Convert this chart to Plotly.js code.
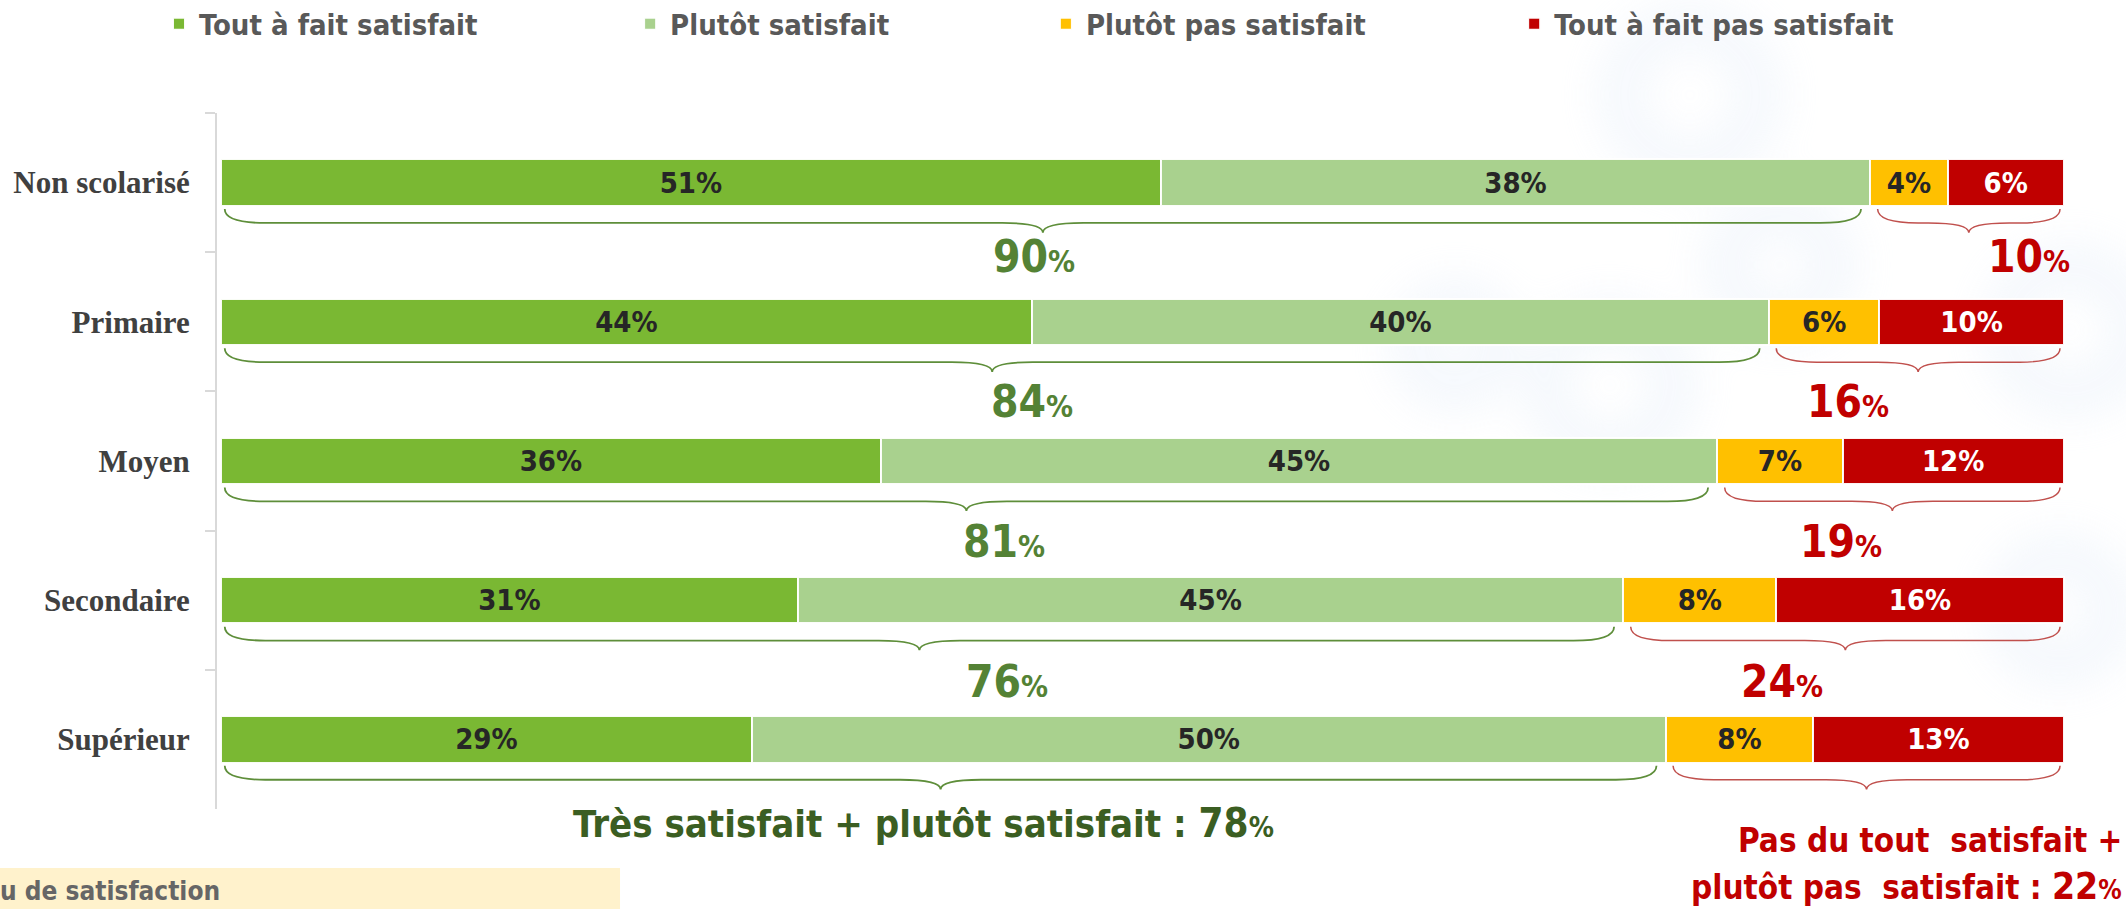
<!DOCTYPE html>
<html><head><meta charset="utf-8">
<script src="https://cdn.plot.ly/plotly-3.0.1.min.js"></script>
<style>html,body{margin:0;padding:0;background:#fff}#chart{width:2126px;height:909px}</style>
</head><body><div id="chart"></div>
<script>
// ---------- data ----------
const categories = ["Non scolarisé", "Primaire", "Moyen", "Secondaire", "Supérieur"];
const seriesNames = ["Tout à fait satisfait", "Plutôt satisfait", "Plutôt pas satisfait", "Tout à fait pas satisfait"];
const toutAFaitSatisfait    = [51.0, 44.0, 35.8, 31.3, 28.8];
const plutotSatisfait       = [38.5, 40.0, 45.4, 44.8, 49.6];
const plutotPasSatisfait    = [4.2, 6.0, 6.8, 8.3, 8.0];
const toutAFaitPasSatisfait = [6.3, 10.0, 12.0, 15.6, 13.6];
const labelsTAFS  = ["51%", "44%", "36%", "31%", "29%"];
const labelsPS    = ["38%", "40%", "45%", "45%", "50%"];
const labelsPPS   = ["4%", "6%", "7%", "8%", "8%"];
const labelsTAFPS = ["6%", "10%", "12%", "16%", "13%"];
const satisfiedTotals   = ["90", "84", "81", "76", "78"];
const unsatisfiedTotals = ["10", "16", "19", "24", "22"];
const summarySatisfied = "Très satisfait + plutôt satisfait : ";
const summaryUnsatLine1 = "Pas du tout\u00a0 satisfait +";
const summaryUnsatLine2 = "plutôt pas\u00a0 satisfait : ";
const footerText = "u de satisfaction";

// ---------- styles ----------
const colors = ["#7AB833", "#A9D18E", "#FFC000", "#C00000"];
const textColors = ["#262626", "#262626", "#262626", "#FFFFFF"];
const condensed = "DejaVu Sans Condensed, DejaVu Sans, sans-serif";
const sansBold = "DejaVu Sans Condensed, DejaVu Sans, sans-serif";
const greenBrace = "#5E8E3A", redBrace = "#C0504D";
const greenText = "#548235", redText = "#C00000", summaryGreen = "#3B5E22";
const greenNudge = [-9, 40, 38, 88, -17];   // px, label placement tweaks
const redNudge = [60, -70, -51, -63];
const labelDy = [0.53, 0.575, 0.58, 0.585];
const legendX = [-0.0305, 0.2172, 0.4358, 0.682];

const series = [toutAFaitSatisfait, plutotSatisfait, plutotPasSatisfait, toutAFaitPasSatisfait];
const seriesLabels = [labelsTAFS, labelsPS, labelsPPS, labelsTAFPS];
const legendIds = ["legend", "legend2", "legend3", "legend4"];

const traces = series.map((vals, i) => ({
  type: "bar", orientation: "h", name: seriesNames[i],
  y: categories, x: vals, text: seriesLabels[i],
  textposition: "inside", insidetextanchor: "middle", textangle: 0,
  constraintext: "none",
  insidetextfont: {family: condensed, size: 29, color: textColors[i], weight: "bold"},
  marker: {color: colors[i], line: {color: "rgba(255,255,255,0.95)", width: 2}},
  width: 0.334, legend: legendIds[i], hoverinfo: "skip"
}));

// ---------- braces ----------
function bracePath(x0, x1, yc) {
  const y0 = yc + 0.19, y1 = yc + 0.29, y2 = yc + 0.36;
  const dx = 2.2, xm = (x0 + x1) / 2;
  return `M${x0},${y0} Q${x0},${y1} ${x0 + dx},${y1} L${xm - dx},${y1} Q${xm},${y1} ${xm},${y2} ` +
         `Q${xm},${y1} ${xm + dx},${y1} L${x1 - dx},${y1} Q${x1},${y1} ${x1},${y0}`;
}
const shapes = [];
const annotations = [];
const pct = (v, big, small) =>
  `<span style="font-size:${big}px">${v}</span><span style="font-size:${small}px">%</span>`;
const toPaperY = y => (4.5 - y) / 5;

categories.forEach((c, i) => {
  const sat = toutAFaitSatisfait[i] + plutotSatisfait[i];
  const total = sat + plutotPasSatisfait[i] + toutAFaitPasSatisfait[i];
  const g0 = 0.2, g1 = sat - 0.5, r0 = sat + 0.4, r1 = total - 0.2;
  shapes.push({type: "path", xref: "x", yref: "y2", path: bracePath(g0, g1, i), line: {color: greenBrace, width: 1.8}});
  shapes.push({type: "path", xref: "x", yref: "y2", path: bracePath(r0, r1, i), line: {color: redBrace, width: 1.5}});
  if (i < categories.length - 1) {
    annotations.push({xref: "x", yref: "y2", x: (g0 + g1) / 2, y: i + labelDy[i], xshift: greenNudge[i],
      yanchor: "middle", text: pct(satisfiedTotals[i], 44, 30), showarrow: false,
      font: {family: condensed, color: greenText, weight: "bold", size: 44}});
    annotations.push({xref: "x", yref: "y2", x: (r0 + r1) / 2, y: i + labelDy[i], xshift: redNudge[i],
      yanchor: "middle", text: pct(unsatisfiedTotals[i], 44, 30), showarrow: false,
      font: {family: condensed, color: redText, weight: "bold", size: 44}});
  } else {
    annotations.push({xref: "x", yref: "paper", x: (g0 + g1) / 2, y: toPaperY(i + 0.6), xshift: greenNudge[i],
      yanchor: "middle", text: summarySatisfied + pct(satisfiedTotals[i], 40, 28), showarrow: false,
      font: {family: sansBold, color: summaryGreen, weight: "bold", size: 38}});
    annotations.push({xref: "paper", yref: "paper", x: 1, xanchor: "right", xshift: 5, y: toPaperY(i + 0.725),
      yanchor: "middle", text: summaryUnsatLine1, showarrow: false,
      font: {family: sansBold, color: redText, weight: "bold", size: 33}});
    annotations.push({xref: "paper", yref: "paper", x: 1, xanchor: "right", xshift: 5, y: toPaperY(i + 1.06),
      yanchor: "middle", text: summaryUnsatLine2 + pct(unsatisfiedTotals[i], 37, 26), showarrow: false,
      font: {family: sansBold, color: redText, weight: "bold", size: 33}});
  }
});

// footer band
shapes.push({type: "rect", xref: "paper", yref: "paper", x0: -0.1141, x1: 0.2119, y0: -0.1437, y1: -0.0848,
  fillcolor: "#FFF2CC", line: {width: 0}, layer: "below"});
annotations.push({xref: "paper", yref: "paper", x: -0.1141, xanchor: "left", xshift: -2, y: -0.1178, yanchor: "middle",
  text: footerText, showarrow: false, font: {family: sansBold, size: 26, color: "#666666", weight: "bold"}});

// faint background watermark rings
const bgSvg = "<svg xmlns='http://www.w3.org/2000/svg' width='2126' height='909'>" +
  "<defs><filter id='b' x='-50%' y='-50%' width='200%' height='200%'><feGaussianBlur stdDeviation='24'/></filter></defs>" +
  "<g filter='url(#b)' fill='none' stroke='#dbe7f7' stroke-width='30' opacity='0.45'>" +
  "<circle cx='1690' cy='95' r='70'/><circle cx='1780' cy='265' r='55'/><circle cx='1610' cy='385' r='65'/>" +
  "<circle cx='2070' cy='330' r='65'/><circle cx='2060' cy='610' r='55'/><circle cx='1455' cy='345' r='45'/>" +
  "</g></svg>";

const layout = {
  width: 2126, height: 909,
  margin: {l: 217, r: 7, t: 113, b: 100, pad: 0, autoexpand: false},
  paper_bgcolor: "#FFFFFF", plot_bgcolor: "rgba(0,0,0,0)",
  barmode: "stack", bargap: 0.666,
  xaxis: {range: [-0.22, 103], visible: false, showgrid: false, zeroline: false, fixedrange: true},
  yaxis: {type: "category", categoryorder: "array", categoryarray: categories, range: [4.5, -0.5],
    tickson: "boundaries", ticks: "outside", ticklen: 10, tickwidth: 2, tickcolor: "#D9D9D9",
    showline: true, linecolor: "#D9D9D9", linewidth: 2, showgrid: false, zeroline: false,
    ticklabelstandoff: 19,
    tickfont: {family: "Liberation Serif, DejaVu Serif, serif", size: 31, color: "#404040", weight: "bold"}},
  yaxis2: {overlaying: "y", range: [4.5, -0.5], visible: false, showgrid: false, zeroline: false},
  images: [{source: "data:image/svg+xml;charset=utf-8," + encodeURIComponent(bgSvg),
    xref: "paper", yref: "paper", x: -0.1141, y: 1.1624, sizex: 1.1178, sizey: 1.306,
    xanchor: "left", yanchor: "top", sizing: "stretch", layer: "below"}],
  shapes, annotations,
  showlegend: true
};
legendIds.forEach((id, i) => {
  layout[id] = {orientation: "h", x: legendX[i], xanchor: "left", y: 1.1279, yanchor: "middle",
    bgcolor: "rgba(0,0,0,0)", borderwidth: 0, itemwidth: 30,
    font: {family: sansBold, size: 29, color: "#595959", weight: "bold"}};
});

Plotly.newPlot("chart", traces, layout, {staticPlot: true, displayModeBar: false});
</script></body></html>
